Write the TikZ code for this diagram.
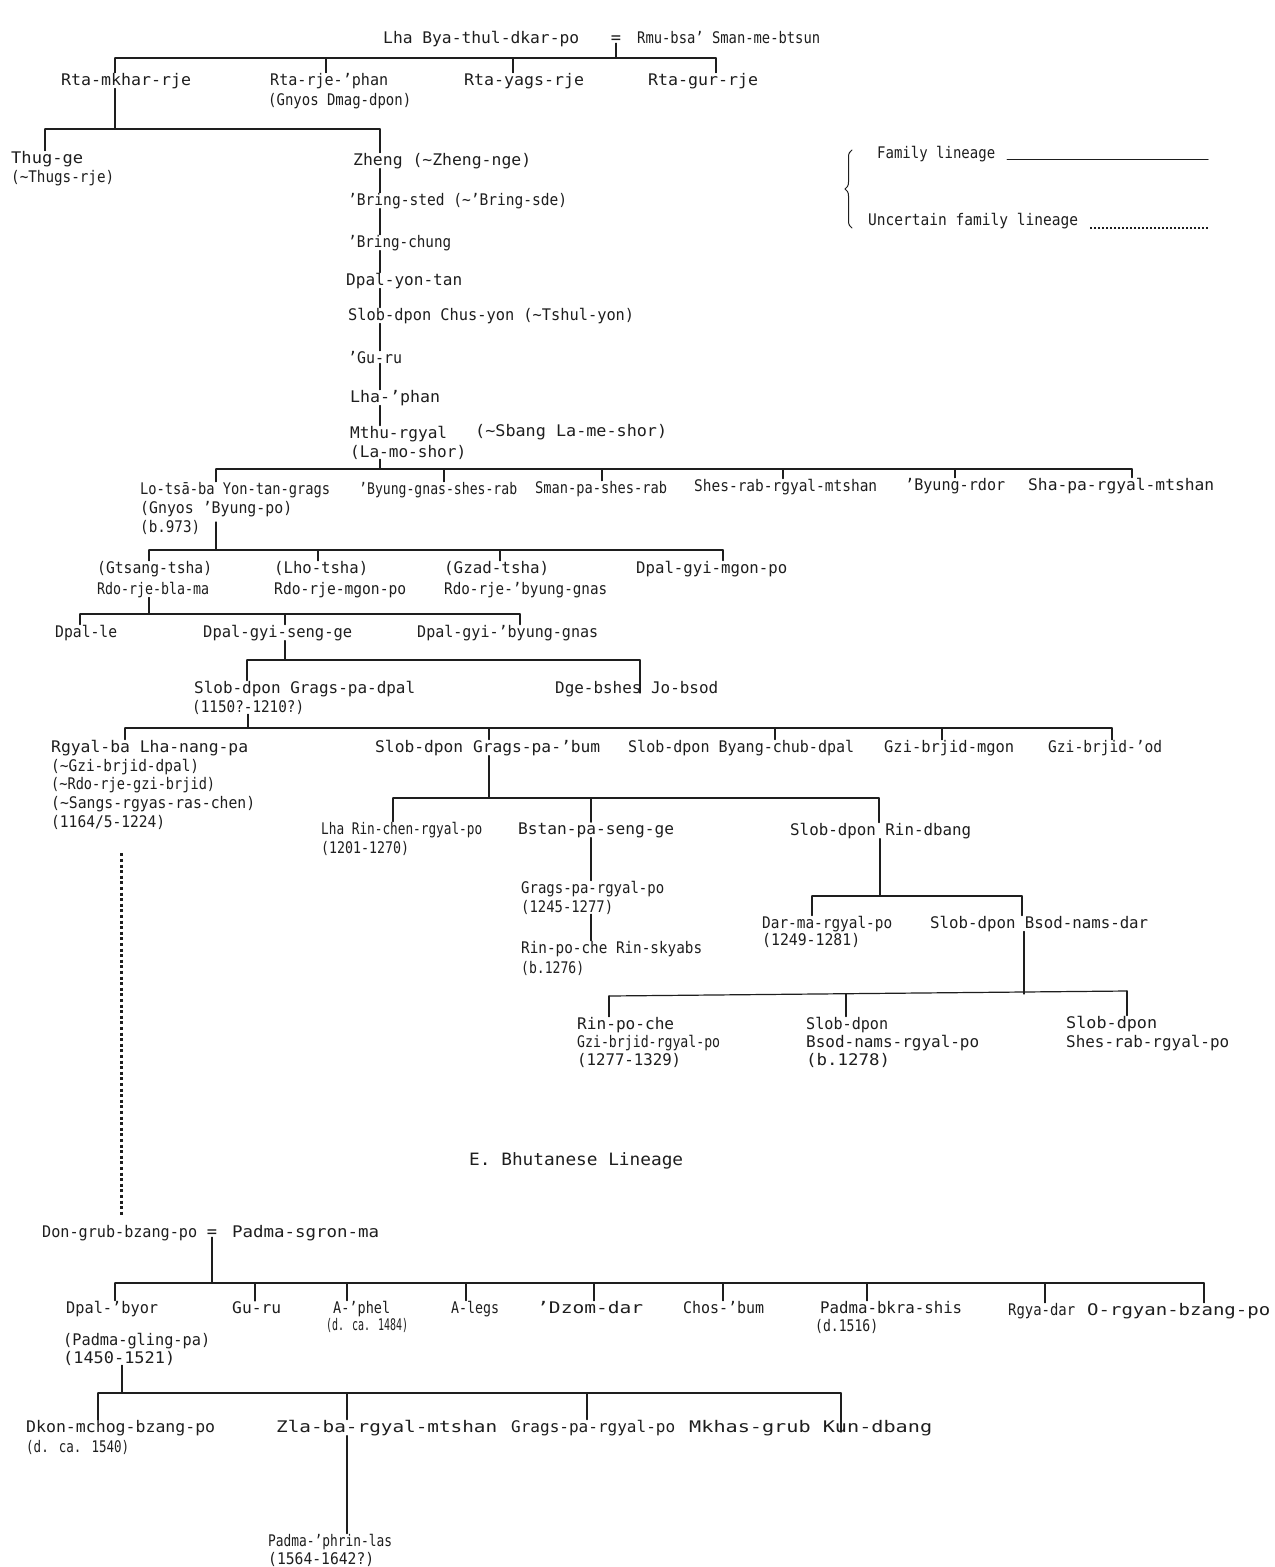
\documentclass[tikz,border=0pt]{standalone}
\usepackage{fontspec}
\setmainfont{DejaVu Sans Mono}
\usepackage{graphicx}
\usetikzlibrary{decorations.pathreplacing}
\definecolor{ink}{HTML}{1E1E1E}
\newcommand{\wlab}[2]{\resizebox{#1pt}{\height}{#2}}
\newcommand{\tld}{\textasciitilde}
\newcommand{\dropto}[3]{\coordinate (dd) at (#1,#2); \draw[ln] (dd) -- (dd |- #3.north);}
\newcommand{\upto}[3]{\coordinate (dd) at (#1,#3); \draw[ln] (dd |- #2.south) -- (dd);}
\newcommand{\chainln}[3]{\coordinate (dd) at (#1,0); \draw[ln] (dd |- #2.south) -- (dd |- #3.north);}
\begin{document}
\begin{tikzpicture}[x=1pt,y=-1pt,
  lbl/.style={anchor=base west, inner sep=0pt, text=ink, font=\fontsize{16}{18}\selectfont},
  eqs/.style={anchor=base, inner sep=0pt, text=ink, font=\fontsize{17}{18}\selectfont},
  ln/.style={draw=ink, line width=1.2pt, line cap=round},
  uncertain/.style={draw=ink, line width=3pt, dash pattern=on 3pt off 2.6pt},
  legdots/.style={draw=ink, line width=2.2pt, dash pattern=on 2.2pt off 1.8pt}]
\fill[white] (0,0) rectangle (1275,1567);
\useasboundingbox (0,0) rectangle (1275,1567);

% ---- top couple
\node[lbl] (a0) at (383,43) {\wlab{196}{Lha Bya-thul-dkar-po}};
\node[eqs] (eq0) at (616,43) {=};
\node[lbl] (a1) at (637,43) {\wlab{183}{Rmu-bsa' Sman-me-btsun}};
\draw[ln] (eq0.south) -- (616,58);
\draw[ln] (115,58) -- (716,58);
\node[lbl] (b1) at (61,85) {\wlab{130}{Rta-mkhar-rje}};
\node[lbl] (b2) at (270,85) {\wlab{118}{Rta-rje-'phan}};
\node[lbl] (b2a) at (268,105) {\wlab{143}{(Gnyos Dmag-dpon)}};
\node[lbl] (b3) at (464,85) {\wlab{120}{Rta-yags-rje}};
\node[lbl] (b4) at (648,85) {\wlab{110}{Rta-gur-rje}};
\dropto{115}{58}{b1}\dropto{326}{58}{b2}\dropto{513}{58}{b3}\dropto{716}{58}{b4}

% ---- Rta-mkhar-rje's sons
\upto{115}{b1}{129}
\draw[ln] (45,129) -- (380,129);
\node[lbl] (c1) at (11,163) {\wlab{72}{Thug-ge}};
\node[lbl] (c1a) at (11,182) {\wlab{103}{(\tld Thugs-rje)}};
\node[lbl] (c2) at (353,165) {\wlab{178}{Zheng (\tld Zheng-nge)}};
\dropto{45}{129}{c1}\dropto{380}{129}{c2}

% ---- chain
\node[lbl] (d1) at (348,205) {\wlab{219}{'Bring-sted (\tld'Bring-sde)}};
\node[lbl] (d2) at (348,247) {\wlab{103}{'Bring-chung}};
\node[lbl] (d3) at (346,285) {\wlab{116}{Dpal-yon-tan}};
\node[lbl] (d4) at (348,320) {\wlab{286}{Slob-dpon Chus-yon (\tld Tshul-yon)}};
\node[lbl] (d5) at (348,363) {\wlab{54}{'Gu-ru}};
\node[lbl] (d6) at (350,402) {\wlab{90}{Lha-'phan}};
\node[lbl] (d7) at (350,438) {\wlab{97}{Mthu-rgyal}};
\node[lbl] (d7b) at (475,436) {\wlab{192}{(\tld Sbang La-me-shor)}};
\node[lbl] (d7a) at (350,457) {\wlab{116}{(La-mo-shor)}};
\chainln{380}{c2}{d1}\chainln{380}{d1}{d2}\chainln{380}{d2}{d3}
\chainln{380}{d3}{d4}\chainln{380}{d4}{d5}\chainln{380}{d5}{d6}\chainln{380}{d6}{d7}
\upto{380}{d7a}{469}

% ---- Mthu-rgyal's sons
\draw[ln] (216,469) -- (1132,469);
\node[lbl] (e1) at (140,494) {\wlab{190}{Lo-tsā-ba Yon-tan-grags}};
\node[lbl] (e1a) at (140,513) {\wlab{152}{(Gnyos 'Byung-po)}};
\node[lbl] (e1b) at (140,532) {\wlab{60}{(b.973)}};
\node[lbl] (e2) at (359,494) {\wlab{158}{'Byung-gnas-shes-rab}};
\node[lbl] (e3) at (535,493) {\wlab{132}{Sman-pa-shes-rab}};
\node[lbl] (e4) at (694,491) {\wlab{183}{Shes-rab-rgyal-mtshan}};
\node[lbl] (e5) at (905,490) {\wlab{100}{'Byung-rdor}};
\node[lbl] (e6) at (1028,490) {\wlab{186}{Sha-pa-rgyal-mtshan}};
\dropto{216}{469}{e1}\dropto{444}{469}{e2}\dropto{602}{469}{e3}
\dropto{783}{469}{e4}\dropto{955}{469}{e5}\dropto{1132}{469}{e6}

% ---- Lo-tsa-ba's sons
\coordinate (e1p) at (216,522);
\draw[ln] (e1p) -- (216,550);
\draw[ln] (149,550) -- (723,550);
\node[lbl] (f1) at (97,573) {\wlab{115}{(Gtsang-tsha)}};
\node[lbl] (f1a) at (97,594) {\wlab{112}{Rdo-rje-bla-ma}};
\node[lbl] (f2) at (274,573) {\wlab{94}{(Lho-tsha)}};
\node[lbl] (f2a) at (274,594) {\wlab{132}{Rdo-rje-mgon-po}};
\node[lbl] (f3) at (444,573) {\wlab{105}{(Gzad-tsha)}};
\node[lbl] (f3a) at (444,594) {\wlab{163}{Rdo-rje-'byung-gnas}};
\node[lbl] (f4) at (636,573) {\wlab{151}{Dpal-gyi-mgon-po}};
\dropto{149}{550}{f1}\dropto{318}{550}{f2}\dropto{500}{550}{f3}\dropto{723}{550}{f4}

% ---- Rdo-rje-bla-ma's sons
\upto{149}{f1a}{614}
\draw[ln] (80,614) -- (520,614);
\node[lbl] (g1) at (55,637) {\wlab{62}{Dpal-le}};
\node[lbl] (g2) at (203,637) {\wlab{149}{Dpal-gyi-seng-ge}};
\node[lbl] (g3) at (417,637) {\wlab{181}{Dpal-gyi-'byung-gnas}};
\dropto{80}{614}{g1}\dropto{285}{614}{g2}\dropto{520}{614}{g3}

% ---- Dpal-gyi-seng-ge's sons
\upto{285}{g2}{660}
\draw[ln] (247,660) -- (640,660);
\node[lbl] (h1) at (194,693) {\wlab{221}{Slob-dpon Grags-pa-dpal}};
\node[lbl] (h1a) at (192,712) {\wlab{112}{(1150?-1210?)}};
\node[lbl] (h2) at (555,693) {\wlab{163}{Dge-bshes Jo-bsod}};
\dropto{247}{660}{h1}
\coordinate (h2d) at (640,660);
\draw[ln] (h2d) -- (h2d |- h2.base);

% ---- Grags-pa-dpal's sons
\upto{248}{h1a}{728}
\draw[ln] (125,728) -- (1112,728);
\node[lbl] (i1) at (51,752) {\wlab{197}{Rgyal-ba Lha-nang-pa}};
\node[lbl] (i1a) at (51,771) {\wlab{148}{(\tld Gzi-brjid-dpal)}};
\node[lbl] (i1b) at (51,789) {\wlab{164}{(\tld Rdo-rje-gzi-brjid)}};
\node[lbl] (i1c) at (51,808) {\wlab{204}{(\tld Sangs-rgyas-ras-chen)}};
\node[lbl] (i1d) at (51,827) {\wlab{114}{(1164/5-1224)}};
\node[lbl] (i2) at (375,752) {\wlab{225}{Slob-dpon Grags-pa-'bum}};
\node[lbl] (i3) at (628,752) {\wlab{226}{Slob-dpon Byang-chub-dpal}};
\node[lbl] (i4) at (884,752) {\wlab{130}{Gzi-brjid-mgon}};
\node[lbl] (i5) at (1048,752) {\wlab{114}{Gzi-brjid-'od}};
\dropto{125}{728}{i1}\dropto{489}{728}{i2}\dropto{775}{728}{i3}
\dropto{942}{728}{i4}\dropto{1112}{728}{i5}

% ---- Grags-pa-'bum's sons
\upto{489}{i2}{798}
\draw[ln] (393,798) -- (879,798);
\node[lbl] (j1) at (321,834) {\wlab{161}{Lha Rin-chen-rgyal-po}};
\node[lbl] (j1a) at (321,853) {\wlab{88}{(1201-1270)}};
\node[lbl] (j2) at (518,834) {\wlab{156}{Bstan-pa-seng-ge}};
\node[lbl] (j3) at (790,835) {\wlab{181}{Slob-dpon Rin-dbang}};
\dropto{393}{798}{j1}\dropto{591}{798}{j2}\dropto{879}{798}{j3}

% ---- Bstan-pa-seng-ge's line
\node[lbl] (k1) at (521,893) {\wlab{143}{Grags-pa-rgyal-po}};
\node[lbl] (k1a) at (521,912) {\wlab{92}{(1245-1277)}};
\node[lbl] (k2) at (521,953) {\wlab{181}{Rin-po-che Rin-skyabs}};
\node[lbl] (k2a) at (521,973) {\wlab{63}{(b.1276)}};
\chainln{591}{j2}{k1}\chainln{591}{k1a}{k2}

% ---- Rin-dbang's sons
\upto{880}{j3}{896}
\draw[ln] (812,896) -- (1022,896);
\node[lbl] (l1) at (762,928) {\wlab{130}{Dar-ma-rgyal-po}};
\node[lbl] (l1a) at (762,945) {\wlab{98}{(1249-1281)}};
\node[lbl] (l2) at (930,928) {\wlab{218}{Slob-dpon Bsod-nams-dar}};
\dropto{812}{896}{l1}\dropto{1022}{896}{l2}

% ---- Bsod-nams-dar's sons
\upto{1024}{l2}{994}
\draw[ln] (609,996) -- (1127,991);
\node[lbl] (m1) at (577,1029) {\wlab{97}{Rin-po-che}};
\node[lbl] (m1a) at (577,1047) {\wlab{143}{Gzi-brjid-rgyal-po}};
\node[lbl] (m1b) at (577,1065) {\wlab{104}{(1277-1329)}};
\node[lbl] (m2) at (806,1029) {\wlab{82}{Slob-dpon}};
\node[lbl] (m2a) at (806,1047) {\wlab{173}{Bsod-nams-rgyal-po}};
\node[lbl] (m2b) at (806,1065) {\wlab{84}{(b.1278)}};
\node[lbl] (m3) at (1066,1028) {\wlab{91}{Slob-dpon}};
\node[lbl] (m3a) at (1066,1047) {\wlab{163}{Shes-rab-rgyal-po}};
\dropto{609}{996}{m1}\dropto{846}{994}{m2}\dropto{1127}{991}{m3}

% ---- heading
\node[lbl, font=\fontsize{17}{18}\selectfont] (title) at (469,1165) {\wlab{214}{E. Bhutanese Lineage}};

% ---- Bhutanese couple
\node[lbl] (n0) at (42,1237) {\wlab{155}{Don-grub-bzang-po}};
\node[eqs] (eq1) at (212,1237) {=};
\node[lbl] (n1) at (232,1237) {\wlab{147}{Padma-sgron-ma}};
\coordinate (ux) at (121,0);
\draw[uncertain] ([yshift=-24pt]ux |- i1d.south) -- ([yshift=9pt]ux |- n0.north);
\draw[ln] (eq1.south) -- (212,1283);
\draw[ln] (115,1283) -- (1204,1283);
\node[lbl] (o1) at (66,1313) {\wlab{92}{Dpal-'byor}};
\node[lbl] (o1a) at (63,1345) {\wlab{147}{(Padma-gling-pa)}};
\node[lbl] (o1b) at (63,1363) {\wlab{112}{(1450-1521)}};
\node[lbl] (o2) at (232,1313) {\wlab{49}{Gu-ru}};
\node[lbl] (o3) at (333,1313) {\wlab{57}{A-'phel}};
\node[lbl] (o3a) at (326,1330) {\wlab{82}{(d. ca. 1484)}};
\node[lbl] (o4) at (451,1313) {\wlab{48}{A-legs}};
\node[lbl] (o5) at (537,1313) {\wlab{106}{'Dzom-dar}};
\node[lbl] (o6) at (683,1313) {\wlab{81}{Chos-'bum}};
\node[lbl] (o7) at (820,1313) {\wlab{142}{Padma-bkra-shis}};
\node[lbl] (o7a) at (815,1331) {\wlab{63}{(d.1516)}};
\node[lbl] (o8) at (1008,1315) {\wlab{67}{Rgya-dar}};
\node[lbl] (o9) at (1087,1315) {\wlab{183}{O-rgyan-bzang-po}};
\dropto{115}{1283}{o1}\dropto{255}{1283}{o2}\dropto{347}{1283}{o3}
\dropto{466}{1283}{o4}\dropto{594}{1283}{o5}\dropto{723}{1283}{o6}
\dropto{867}{1283}{o7}\dropto{1045}{1283}{o8}\dropto{1204}{1283}{o9}

% ---- Padma-gling-pa's sons
\upto{122}{o1b}{1393}
\draw[ln] (98,1393) -- (841,1393);
\node[lbl] (p1) at (26,1432) {\wlab{189}{Dkon-mchog-bzang-po}};
\node[lbl] (p1a) at (26,1452) {\wlab{103}{(d. ca. 1540)}};
\node[lbl] (p2) at (276,1432) {\wlab{221}{Zla-ba-rgyal-mtshan}};
\node[lbl] (p3) at (511,1432) {\wlab{164}{Grags-pa-rgyal-po}};
\node[lbl] (p4) at (689,1432) {\wlab{243}{Mkhas-grub Kun-dbang}};
\dropto{98}{1393}{p1}\dropto{347}{1393}{p2}\dropto{587}{1393}{p3}
\coordinate (p4d) at (841,1393);
\draw[ln] (p4d) -- (p4d |- p4.base);

\node[lbl] (q1) at (268,1546) {\wlab{124}{Padma-'phrin-las}};
\node[lbl] (q1a) at (268,1564) {\wlab{106}{(1564-1642?)}};
\chainln{347}{p2}{q1}

% ---- legend
\node[lbl] (lg1) at (877,158) {\wlab{118}{Family lineage}};
\node[lbl] (lg2) at (868,225) {\wlab{210}{Uncertain family lineage}};
\coordinate (lga) at (1007,159);
\coordinate (lgb) at (1208,159);
\draw[ln, line width=1pt] (lga) -- (lgb);
\coordinate (lgc) at (1090,228);
\coordinate (lgd) at (1208,228);
\draw[legdots] (lgc) -- (lgd);
\coordinate (br1) at (852,228);
\coordinate (br2) at (852,150);
\draw[ln, line width=1pt, decorate, decoration={brace, amplitude=7pt}] (br1) -- (br2);
\end{tikzpicture}
\end{document}
